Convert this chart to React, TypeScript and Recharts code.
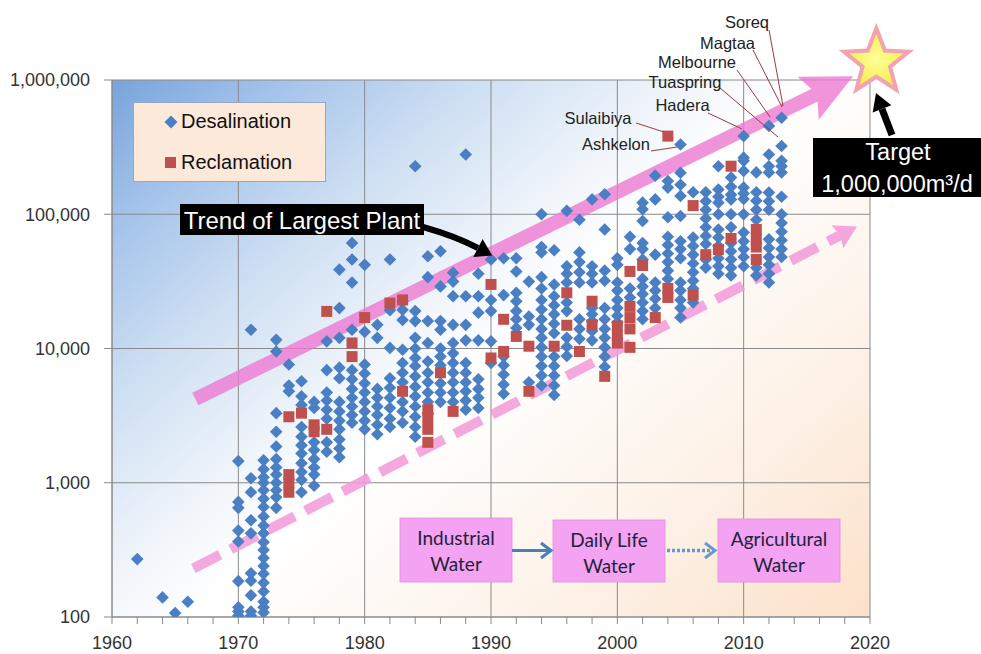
import React from 'react';
import {
  ScatterChart, Scatter, XAxis, YAxis, CartesianGrid,
  ReferenceLine, ReferenceDot, Legend,
} from 'recharts';

const DECADE_TICKS = [1960, 1970, 1980, 1990, 2000, 2010, 2020];
const MINOR_TICKS = [1960, 1962, 1964, 1966, 1968, 1970, 1972, 1974, 1976, 1978, 1980, 1982, 1984, 1986, 1988, 1990, 1992, 1994, 1996, 1998, 2000, 2002, 2004, 2006, 2008, 2010, 2012, 2014, 2016, 2018, 2020];
const Y_TICKS = [100, 1000, 10000, 100000, 1000000];

// [year, capacities m3/d]
const DESALINATION: [number, number[]][] = [
  [1962, [270]],
  [1964, [140]],
  [1965, [107]],
  [1966, [130]],
  [1970, [1450, 720, 650, 440, 365, 185, 118, 110, 102]],
  [1971, [13800, 1080, 850, 525, 420, 212, 186, 145, 110, 102]],
  [1972, [1470, 1260, 1100, 1000, 880, 760, 660, 560, 480, 420, 360, 316, 275, 240, 210, 180, 155, 130, 118, 108]],
  [1973, [11600, 9500, 3300, 2400, 1860, 1500, 1300, 1150, 1000, 880, 780, 650]],
  [1974, [7600, 5300, 4800]],
  [1975, [5700, 4400, 3800, 2600, 2200, 1900, 1650, 1400, 1200, 1050, 850]],
  [1976, [4000, 3600, 2000, 1750, 1500, 1300, 1150, 950]],
  [1977, [11300, 6900, 4700, 4100, 3500, 3000, 2000, 1700]],
  [1978, [38700, 20000, 12000, 7200, 6000, 4000, 3400, 2900, 2500, 2100, 1800, 1550]],
  [1979, [61000, 46000, 31000, 13800, 6900, 5900, 5000, 4300, 3700, 3200, 2800]],
  [1980, [42000, 13300, 7600, 6500, 5500, 4700, 4000, 3400, 2900, 2500]],
  [1981, [15000, 12000, 5000, 4300, 3700, 3200, 2700, 2300]],
  [1982, [46000, 19300, 10100, 6000, 5100, 4300, 3600, 3000, 2600]],
  [1983, [22500, 19400, 16300, 9800, 7800, 6600, 5600, 4000, 3400, 2800]],
  [1984, [228000, 19000, 16000, 12000, 10000, 8500, 7400, 6200, 5200, 4400, 3700, 3100, 2600, 2200]],
  [1985, [48600, 34000, 16000, 11000, 8000, 6600, 5600, 4700, 4000, 3300]],
  [1986, [53000, 29000, 16000, 13800, 10000, 8700, 7500, 5500, 4700, 4000]],
  [1987, [36700, 31500, 24500, 15000, 11000, 9200, 7800, 6600, 5600, 4700, 4000]],
  [1988, [279000, 24500, 15000, 11500, 7800, 6600, 5600, 4800, 4100, 3500]],
  [1989, [36000, 24500, 18500, 11500, 5900, 5000, 4300, 3600]],
  [1990, [46000, 23000, 19000, 11300, 7800]],
  [1991, [47000, 25000, 8700, 7500, 6400, 5400, 4600]],
  [1992, [47000, 37500, 26000, 22500, 19000, 16500, 14200]],
  [1993, [31500, 17300, 15000, 5600]],
  [1994, [100000, 57000, 52000, 34000, 28000, 23000, 19500, 16500, 14000, 12000, 10200, 8700, 7400, 6300, 5300]],
  [1995, [54000, 30000, 24500, 21000, 18000, 15300, 13000, 8700, 7400, 6300, 5300, 4500]],
  [1996, [106000, 41000, 36000, 31000, 22000, 19000, 12000, 10300, 8800]],
  [1997, [91000, 52000, 44000, 37000, 31000, 16500, 14000, 11800]],
  [1998, [129000, 41000, 36000, 31000, 20000, 18000, 16000, 13500, 11500]],
  [1999, [141000, 77000, 38000, 32000, 20000, 16500, 14000, 12000, 10200, 8700, 7300]],
  [2000, [47000, 42000, 31000, 27000, 23000, 20000, 17500, 15600]],
  [2001, [68000, 55000, 28000, 24000]],
  [2002, [122000, 109000, 89000, 61000, 55000, 46000, 33000, 29000, 25500, 22000, 19000, 16500]],
  [2003, [194000, 129000, 50000, 31000, 27000, 23500, 20000]],
  [2004, [177000, 158000, 95000, 68000, 59000, 51000, 44000, 38000, 33000]],
  [2005, [331000, 204000, 166000, 137000, 97000, 63000, 55000, 47000, 31000, 27000, 23000, 20000, 17000]],
  [2006, [146000, 67000, 58000, 50000, 43000, 37000, 32000, 28000, 22000]],
  [2007, [146000, 125000, 108000, 93000, 80000, 69000, 60000, 46000, 40000]],
  [2008, [228000, 153000, 135000, 122000, 100000, 77000, 67000, 58000, 47000, 41000, 36000]],
  [2009, [188000, 160000, 140000, 129000, 100000, 80000, 61000, 53000, 46000, 40000, 35000]],
  [2010, [382000, 264000, 250000, 210000, 158000, 143000, 130000, 100000, 73000, 63000, 55000, 48000, 41000]],
  [2011, [205000, 146000, 126000, 108000, 91000, 40000, 35000]],
  [2012, [455000, 279000, 228000, 205000, 145000, 125000, 108000, 65000, 56000, 48000, 42000, 36000, 31000]],
  [2013, [523000, 322000, 250000, 228000, 205000, 135000, 100000, 86000, 74000, 64000, 55000, 48000]],
];

const RECLAMATION: [number, number[]][] = [
  [1974, [3100, 1150, 1000, 850]],
  [1975, [3300]],
  [1976, [2700, 2400]],
  [1977, [18900, 2500]],
  [1979, [11000, 8700]],
  [1980, [17000]],
  [1982, [21800]],
  [1983, [23000, 4800]],
  [1985, [3500, 3000, 2500, 2000]],
  [1986, [6600]],
  [1987, [3400]],
  [1990, [30000, 8500]],
  [1991, [16500, 9500]],
  [1992, [12300]],
  [1993, [10400, 4800]],
  [1995, [10400]],
  [1996, [26000, 14900]],
  [1997, [9500]],
  [1998, [22500, 15000]],
  [1999, [6200]],
  [2000, [14700, 12500, 11000]],
  [2001, [37500, 20600, 17000, 14000, 10200]],
  [2002, [41500]],
  [2003, [17000]],
  [2004, [382000, 28000, 24000]],
  [2006, [116000, 25000]],
  [2007, [50000]],
  [2008, [54600]],
  [2009, [228000, 66000]],
  [2011, [77000, 65000, 57000, 46000]],
];

const LARGEST_TREND = [{ x: 1966.6, y: 4200 }, { x: 2018.66, y: 1066000 }];
const LOWER_TREND = [{ x: 1966.44, y: 230 }, { x: 2018.97, y: 80900 }];
const TARGET_POINT = { x: 2020.5, y: 1356000 };

const desalPoints = DESALINATION.flatMap(([year, vals]) => vals.map((v) => ({ x: year, y: v })));
const reclaimPoints = RECLAMATION.flatMap(([year, vals]) => vals.map((v) => ({ x: year, y: v })));

const FONT = '"Liberation Sans", Arial, sans-serif';
const BLUE = '#4a7fc4';
const RED = '#c0504d';

const Diamond = (p: any) => {
  const { cx, cy } = p;
  if (cx == null || cy == null) return null;
  const r = 6.3;
  return <path d={`M${cx},${cy - r}L${cx + r},${cy}L${cx},${cy + r}L${cx - r},${cy}Z`} fill={BLUE} />;
};

const Square = (p: any) => {
  const { cx, cy } = p;
  if (cx == null || cy == null) return null;
  return <rect x={cx - 5.5} y={cy - 5.5} width={11} height={11} fill={RED} />;
};

function makeArrow(o: { w: number; headLen: number; headHalf: number; notch: number; color: string; op: number; dash?: string }) {
  return (p: any) => {
    const { x1, y1, x2, y2 } = p;
    if ([x1, y1, x2, y2].some((v) => v == null || isNaN(v))) return null;
    const dx = x2 - x1, dy = y2 - y1;
    const L = Math.hypot(dx, dy);
    const ux = dx / L, uy = dy / L;
    const nx = -uy, ny = ux;
    const bx = x2 - ux * o.headLen, by = y2 - uy * o.headLen;
    const mx = bx + ux * o.notch, my = by + uy * o.notch;
    const pts = [
      [x2, y2],
      [bx + nx * o.headHalf, by + ny * o.headHalf],
      [mx, my],
      [bx - nx * o.headHalf, by - ny * o.headHalf],
    ].map((q) => q.join(',')).join(' ');
    return (
      <g opacity={o.op}>
        <line x1={x1} y1={y1} x2={mx} y2={my} stroke={o.color} strokeWidth={o.w} strokeDasharray={o.dash} />
        <polygon points={pts} fill={o.color} />
      </g>
    );
  };
}

const SolidArrow = makeArrow({ w: 14, headLen: 50, headHalf: 24, notch: 10, color: '#ee7ad2', op: 0.8 });
const DashedArrow = makeArrow({ w: 10, headLen: 22, headHalf: 13, notch: 3, color: '#f39ad9', op: 0.85, dash: '30 12' });

const Star = (p: any) => {
  const { cx, cy } = p;
  if (cx == null || cy == null) return null;
  const R = 34, r = 14.5;
  const pts: string[] = [];
  for (let i = 0; i < 10; i++) {
    const a = -Math.PI / 2 + (i * Math.PI) / 5;
    const rad = i % 2 === 0 ? R : r;
    pts.push(`${cx + rad * Math.cos(a)},${cy + rad * Math.sin(a)}`);
  }
  return (
    <g>
      <polygon points={pts.join(' ')} fill="url(#starFill)" stroke="#f2a2b0" strokeWidth={4} strokeLinejoin="miter" />
    </g>
  );
};

const LegendBox = () => (
  <div style={{ position: 'relative', width: 193, height: 80, boxSizing: 'border-box', background: '#fde9d9', border: '1.5px solid #93a9c6', fontFamily: FONT, fontSize: 20, color: '#111' }}>
    <svg width={14} height={14} style={{ position: 'absolute', left: 30, top: 12 }}>
      <path d="M7,0.5L13.5,7L7,13.5L0.5,7Z" fill={BLUE} />
    </svg>
    <div style={{ position: 'absolute', left: 47, top: 6, lineHeight: '24px' }}>Desalination</div>
    <svg width={12} height={12} style={{ position: 'absolute', left: 31, top: 54 }}>
      <rect x={0} y={0} width={11} height={11} fill={RED} />
    </svg>
    <div style={{ position: 'absolute', left: 47, top: 47, lineHeight: '24px' }}>Reclamation</div>
  </div>
);

const labels = [
  { t: 'Soreq', x: 747, y: 22, lx1: 769, ly1: 30, lx2: 783, ly2: 106 },
  { t: 'Magtaa', x: 727.5, y: 43, lx1: 753, ly1: 50, lx2: 782, ly2: 107 },
  { t: 'Melbourne', x: 697, y: 62, lx1: 737, ly1: 70, lx2: 770, ly2: 117 },
  { t: 'Tuaspring', x: 685, y: 82, lx1: 720, ly1: 88, lx2: 778, ly2: 137 },
  { t: 'Hadera', x: 682.5, y: 105, lx1: 708, ly1: 113, lx2: 742, ly2: 129 },
  { t: 'Sulaibiya', x: 598, y: 118, lx1: 636, ly1: 123, lx2: 664, ly2: 132 },
  { t: 'Ashkelon', x: 616, y: 144, lx1: 651, ly1: 151, lx2: 677, ly2: 147 },
];

const flowBoxes = [
  { x: 400, y: 518, w: 112, h: 64, l1: 'Industrial', l2: 'Water' },
  { x: 553, y: 520, w: 112, h: 62, l1: 'Daily Life', l2: 'Water' },
  { x: 718, y: 519, w: 122, h: 63, l1: 'Agricultural', l2: 'Water' },
];

const Overlay = () => (
  <svg width={981} height={654} style={{ position: 'absolute', left: 0, top: 0, pointerEvents: 'none' }}>
    {labels.map((l) => (
      <g key={l.t}>
        <line x1={l.lx1} y1={l.ly1} x2={l.lx2} y2={l.ly2} stroke="#9b3b3b" strokeWidth={1} />
        <text x={l.x} y={l.y} textAnchor="middle" dominantBaseline="central" fontFamily={FONT} fontSize={16.5} fill="#222">{l.t}</text>
      </g>
    ))}
    {/* Trend of Largest Plant */}
    <rect x={180} y={204} width={244} height={31} fill="#000" />
    <text x={302} y={220} textAnchor="middle" dominantBaseline="central" fontFamily={FONT} fontSize={24} fill="#fff">Trend of Largest Plant</text>
    <path d="M423,227 Q455,236 478,248" stroke="#000" strokeWidth={6} fill="none" />
    <polygon points="492.2,255.4 473.4,256.9 482.6,239.1" fill="#000" />
    {/* Target */}
    <line x1={892} y1={135} x2={882} y2={109} stroke="#000" strokeWidth={7} />
    <polygon points="876,93 891.4,105.3 872.7,112.5" fill="#000" />
    <rect x={813} y={138} width={168} height={59} fill="#000" />
    <text x={898} y={152} textAnchor="middle" dominantBaseline="central" fontFamily={FONT} fontSize={23.5} fill="#fff">Target</text>
    <text x={897} y={184} textAnchor="middle" dominantBaseline="central" fontFamily={FONT} fontSize={23.5} fill="#fff">1,000,000m³/d</text>
    {/* flow boxes */}
    {flowBoxes.map((b) => (
      <g key={b.l1}>
        <rect x={b.x} y={b.y} width={b.w} height={b.h} fill="#f3a3f1" stroke="#e08ce0" strokeWidth={0.8} />
        <text x={b.x + b.w / 2} y={b.y + 19} textAnchor="middle" dominantBaseline="central" fontFamily="Lato, 'Open Sans', sans-serif" fontSize={19} fill="#22223a">{b.l1}</text>
        <text x={b.x + b.w / 2} y={b.y + 45} textAnchor="middle" dominantBaseline="central" fontFamily="Lato, 'Open Sans', sans-serif" fontSize={19} fill="#22223a">{b.l2}</text>
      </g>
    ))}
    <line x1={512} y1={550.5} x2={551} y2={550.5} stroke="#4a7ebb" strokeWidth={3} />
    <polyline points="541,543 551,550.5 541,558" stroke="#4a7ebb" strokeWidth={3} fill="none" />
    <line x1={667} y1={550.5} x2={714} y2={550.5} stroke="#6a98cc" strokeWidth={3.5} strokeDasharray="3 2" />
    <polyline points="705,543 715,550.5 705,558" stroke="#6a98cc" strokeWidth={3} fill="none" />
  </svg>
);

export default function App() {
  return (
    <div style={{ position: 'relative', width: 981, height: 654, background: '#fff', overflow: 'hidden' }}>
      <style>{'body{margin:0;}'}</style>
      <ScatterChart width={981} height={654} margin={{ top: 80, right: 111, bottom: 0, left: 0 }}>
        <defs>
          <linearGradient id="plotBg" gradientUnits="userSpaceOnUse" x1="112" y1="80" x2="711" y2="770">
            <stop offset="0" stopColor="#78a3da" />
            <stop offset="0.12" stopColor="#a3c2ea" />
            <stop offset="0.27" stopColor="#cfe0f3" />
            <stop offset="0.42" stopColor="#f2f6fb" />
            <stop offset="0.5" stopColor="#ffffff" />
            <stop offset="0.75" stopColor="#fdf2e8" />
            <stop offset="1" stopColor="#fce0c8" />
          </linearGradient>
          <radialGradient id="starFill" cx="0.5" cy="0.5" r="0.5">
            <stop offset="0" stopColor="#ffff9a" />
            <stop offset="1" stopColor="#f4ec4a" />
          </radialGradient>
        </defs>
        <CartesianGrid xAxisId="decade" fill="url(#plotBg)" stroke="#8a8a8a" strokeDasharray="" />
        <XAxis
          xAxisId="decade"
          type="number"
          dataKey="x"
          domain={[1960, 2020]}
          ticks={DECADE_TICKS}
          interval={0}
          hide
          allowDataOverflow
        />
        <XAxis
          type="number"
          dataKey="x"
          domain={[1960, 2020]}
          ticks={MINOR_TICKS}
          interval={0}
          height={37}
          tickSize={7}
          tickMargin={12}
          axisLine={{ stroke: '#8a8a8a' }}
          tickLine={{ stroke: '#8a8a8a' }}
          tick={{ fill: '#333', fontSize: 18, fontFamily: FONT }}
          tickFormatter={(v: number) => (v % 10 === 0 ? String(v) : '')}
          allowDataOverflow
        />
        <YAxis
          type="number"
          dataKey="y"
          scale="log"
          domain={[100, 1000000]}
          ticks={Y_TICKS}
          interval={0}
          width={112}
          tickSize={8}
          tickMargin={14}
          axisLine={{ stroke: '#8a8a8a' }}
          tickLine={{ stroke: '#8a8a8a' }}
          tick={{ fill: '#333', fontSize: 18, fontFamily: FONT }}
          tickFormatter={(v: number) => v.toLocaleString('en-US')}
          allowDataOverflow
        />
        <Scatter name="Desalination" data={desalPoints} shape={Diamond} isAnimationActive={false} />
        <Scatter name="Reclamation" data={reclaimPoints} shape={Square} isAnimationActive={false} />
        <ReferenceLine segment={LOWER_TREND} ifOverflow="visible" shape={DashedArrow} />
        <ReferenceLine segment={LARGEST_TREND} ifOverflow="visible" shape={SolidArrow} />
        <ReferenceDot x={TARGET_POINT.x} y={TARGET_POINT.y} ifOverflow="visible" shape={Star} />
        <Legend
          layout="horizontal"
          verticalAlign="middle"
          align="center"
          content={() => <LegendBox />}
          wrapperStyle={{ left: 133, top: 102, width: 193, height: 80 }}
        />
      </ScatterChart>
      <Overlay />
    </div>
  );
}
